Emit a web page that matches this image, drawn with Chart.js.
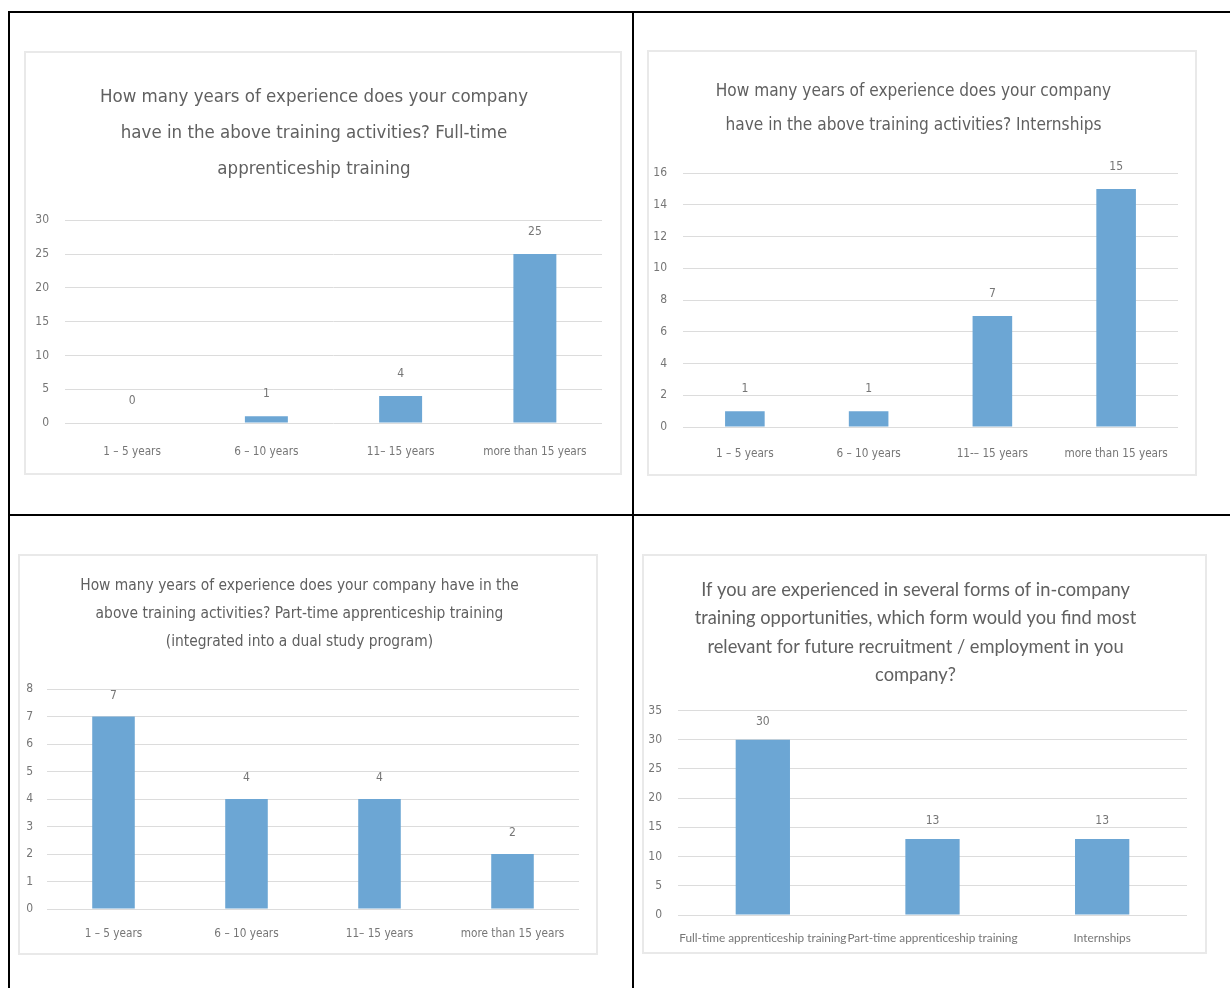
<!DOCTYPE html>
<html>
<head>
<meta charset="utf-8">
<script src="https://cdn.jsdelivr.net/npm/chart.js@4.4.1/dist/chart.umd.min.js"></script>
<style>
  body { margin: 0; background: #fff; width: 1230px; height: 988px; position: relative; overflow: hidden; }
  .line { position: absolute; background: #000; }
  .box { position: absolute; border: 2px solid #e9e9e9; box-sizing: border-box; background: #fff; }
  .box canvas { position: absolute; left: 0; top: 0; }
</style>
</head>
<body>

<div class="line" style="left:8px; top:11px; width:1222px; height:2px;"></div>
<div class="line" style="left:8px; top:11px; width:2px; height:977px;"></div>
<div class="line" style="left:632px; top:11px; width:2px; height:977px;"></div>
<div class="line" style="left:8px; top:514px; width:1222px; height:2px;"></div>

<div class="box" style="left:24px; top:51px; width:598px; height:424px;"><canvas id="c1" width="594" height="420"></canvas></div>
<div class="box" style="left:647px; top:50px; width:550px; height:426px;"><canvas id="c2" width="546" height="422"></canvas></div>
<div class="box" style="left:18px; top:554px; width:580px; height:401px;"><canvas id="c3" width="576" height="397"></canvas></div>
<div class="box" style="left:642px; top:554px; width:565px; height:400px;"><canvas id="c4" width="561" height="396"></canvas></div>

<script>
// data
var yearLabels = ["1 \u2013 5 years", "6 \u2013 10 years", "11\u2013 15 years", "more than 15 years"];
var yearLabels2 = ["1 \u2013 5 years", "6 \u2013 10 years", "11-\u2013 15 years", "more than 15 years"];
var fullTimeValues = [0, 1, 4, 25];
var internshipValues = [1, 1, 7, 15];
var partTimeValues = [7, 4, 4, 2];
var formLabels = ["Full-time apprenticeship training", "Part-time apprenticeship training", "Internships"];
var formValues = [30, 13, 13];

var title1 = ["How many years of experience does your company", "have in the above training activities? Full-time", "apprenticeship training"];
var title2 = ["How many years of experience does your company", "have in the above training activities? Internships"];
var title3 = ["How many years of experience does your company have in the", "above training activities? Part-time apprenticeship training", "(integrated into a dual study program)"];
var title4 = ["If you are experienced in several forms of in-company", "training opportunities, which form would you find most", "relevant for future recruitment / employment in you", "company?"];

var narrow = "'Liberation Sans Narrow', 'DejaVu Sans Condensed', sans-serif";
var barColor = "#6ca6d4";
var textColor = "#606060";
var tickColor = "#767676";
var gridColor = "#dcdcdc";

// writes the value over each bar
var valueLabels = {
	id: "valueLabels",
	afterDatasetsDraw: function(chart, args, opts){
		var ctx = chart.ctx;
		var meta = chart.getDatasetMeta(0);
		ctx.save();
		ctx.fillStyle = tickColor;
		ctx.font = "12px " + narrow;
		ctx.textAlign = "center";
		ctx.textBaseline = "middle";
		meta.data.forEach(function(bar, i){
			ctx.fillText(chart.data.datasets[0].data[i], bar.x, bar.y - opts.offset);
		});
		ctx.restore();
	}
};

function makeChart(id, labels, values, title, cfg){
	new Chart(document.getElementById(id), {
		type: "bar",
		data: {
			labels: labels,
			datasets: [{
				data: values,
				backgroundColor: barColor,
				borderWidth: 0,
				barPercentage: 0.32,
				categoryPercentage: 1
			}]
		},
		plugins: [valueLabels],
		options: {
			responsive: false,
			animation: false,
			layout: { padding: { left: 0, right: cfg.padRight, top: 0, bottom: 0 } },
			plugins: {
				legend: { display: false },
				tooltip: { enabled: false },
				valueLabels: { offset: cfg.labelOffset },
				title: {
					display: true,
					text: title,
					color: textColor,
					font: { family: cfg.titleFont, size: cfg.titleSize, weight: "normal", lineHeight: cfg.titleLine },
					padding: { top: cfg.titleTop, bottom: cfg.titleBottom }
				}
			},
			scales: {
				x: {
					grid: { display: false, drawTicks: false },
					border: { display: false },
					ticks: { color: tickColor, padding: cfg.xPad, maxRotation: 0, autoSkip: false,
						font: { family: cfg.xFont, size: cfg.xSize } },
					afterFit: function(s){ s.height = cfg.xHeight; }
				},
				y: {
					min: 0,
					max: cfg.max,
					grid: { color: gridColor, lineWidth: 1, drawTicks: false },
					border: { display: false },
					ticks: { stepSize: cfg.step, color: tickColor, padding: cfg.yPad,
						font: { family: narrow, size: 12 } },
					afterFit: function(s){ s.width = cfg.yWidth; }
				}
			}
		}
	});
}

makeChart("c1", yearLabels, fullTimeValues, title1, {
	titleFont: narrow, titleSize: 18.5, titleLine: 1.95, titleTop: 26, titleBottom: 33,
	max: 30, step: 5, yWidth: 39, yPad: 16, padRight: 18, xPad: 22, xHeight: 50,
	xFont: narrow, xSize: 11.7, labelOffset: 22
});

makeChart("c2", yearLabels2, internshipValues, title2, {
	titleFont: narrow, titleSize: 17.1, titleLine: 1.99, titleTop: 23, titleBottom: 30,
	max: 16, step: 2, yWidth: 34, yPad: 16, padRight: 17, xPad: 20, xHeight: 47,
	xFont: narrow, xSize: 11.7, labelOffset: 22
});

makeChart("c3", yearLabels, partTimeValues, title3, {
	titleFont: narrow, titleSize: 15.4, titleLine: 1.82, titleTop: 16, titleBottom: 33,
	max: 8, step: 1, yWidth: 27, yPad: 14, padRight: 17, xPad: 18, xHeight: 44,
	xFont: narrow, xSize: 11.7, labelOffset: 21
});

makeChart("c4", formLabels, formValues, title4, {
	titleFont: "Lato, sans-serif", titleSize: 18.3, titleLine: 1.55, titleTop: 20, titleBottom: 21,
	max: 35, step: 5, yWidth: 34, yPad: 16, padRight: 18, xPad: 16, xHeight: 37,
	xFont: "Lato, sans-serif", xSize: 11.8, labelOffset: 18
});
</script>
</body>
</html>
